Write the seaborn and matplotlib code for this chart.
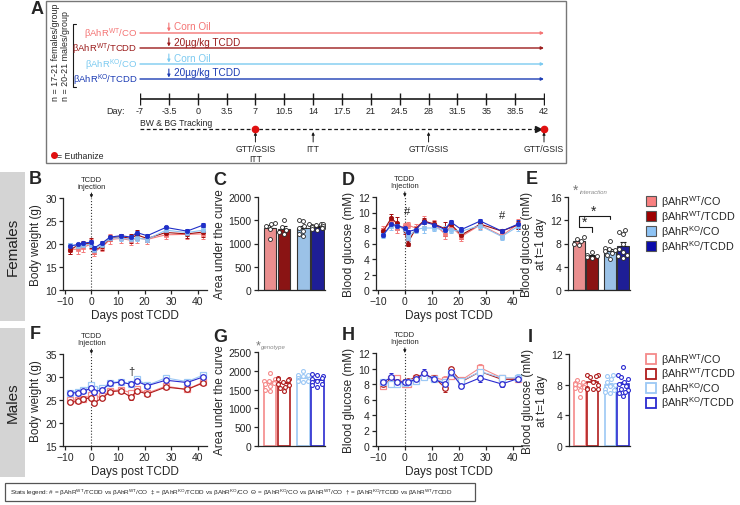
import numpy as np
import pandas as pd
import matplotlib
matplotlib.use("Agg")
import matplotlib.pyplot as plt
import seaborn as sns
from matplotlib.patches import Rectangle

sns.set_theme(style="ticks")
plt.rcParams["font.family"] = ["Liberation Sans", "DejaVu Sans"]
plt.rcParams["mathtext.fontset"] = "custom"
plt.rcParams["mathtext.rm"] = "Liberation Sans"
plt.rcParams["mathtext.it"] = "Liberation Sans:italic"
plt.rcParams["mathtext.bf"] = "Liberation Sans:bold"
plt.rcParams["axes.linewidth"] = 0.9
plt.rcParams["xtick.major.width"] = 0.9
plt.rcParams["ytick.major.width"] = 0.9
plt.rcParams["xtick.major.size"] = 3
plt.rcParams["ytick.major.size"] = 3
plt.rcParams["xtick.major.pad"] = 1.5
plt.rcParams["ytick.major.pad"] = 1.5

# ---------------- data ----------------
groups = ["WT/CO", "WT/TCDD", "KO/CO", "KO/TCDD"]
labels = [r"βAhR$^{\mathrm{WT}}$/CO", r"βAhR$^{\mathrm{WT}}$/TCDD",
          r"βAhR$^{\mathrm{KO}}$/CO", r"βAhR$^{\mathrm{KO}}$/TCDD"]
treatments = ["Corn Oil", "20µg/kg TCDD", "Corn Oil", "20µg/kg TCDD"]

day_ticks = [-7, -3.5, 0, 3.5, 7, 10.5, 14, 17.5, 21, 24.5, 28, 31.5, 35, 38.5, 42]
day_tick_labels = ["-7", "-3.5", "0", "3.5", "7", "10.5", "14", "17.5", "21",
                   "24.5", "28", "31.5", "35", "38.5", "42"]
test_days = [7, 14, 28, 42]
test_labels = ["GTT/GSIS\nITT", "ITT", "GTT/GSIS", "GTT/GSIS"]
euth_days = [7, 42]

days = [-8, -5, -3, 0, 1, 4, 7, 11, 15, 17, 21, 28, 36, 42]

bw_f = {
    "WT/CO":   [18.8, 18.9, 19.3, 20.0, 18.3, 19.3, 21.0, 21.2, 20.8, 21.3, 21.0, 22.0, 22.1, 22.2],
    "WT/TCDD": [18.7, 19.8, 20.0, 20.2, 18.6, 19.5, 21.3, 21.6, 21.2, 22.0, 21.2, 22.5, 22.2, 22.6],
    "KO/CO":   [19.7, 19.6, 19.8, 20.0, 18.8, 19.8, 21.3, 21.3, 21.0, 21.3, 21.0, 23.0, 22.5, 23.0],
    "KO/TCDD": [19.6, 19.9, 20.2, 20.4, 19.1, 20.2, 21.5, 21.8, 21.5, 22.5, 21.8, 23.6, 22.8, 24.1],
}
bw_f_sem = {
    "WT/CO":   [1.0, 1.0, 1.1, 1.0, 0.9, 0.8, 1.1, 1.0, 1.1, 1.0, 1.0, 0.9, 1.0, 1.1],
    "WT/TCDD": [0.9, 0.5, 0.6, 1.0, 0.8, 0.8, 0.6, 0.6, 1.0, 1.1, 0.8, 0.8, 0.9, 1.0],
    "KO/CO":   [0.6, 0.5, 0.5, 0.7, 0.6, 0.5, 0.5, 0.6, 0.6, 0.7, 0.6, 0.7, 0.7, 0.8],
    "KO/TCDD": [0.4, 0.3, 0.3, 0.4, 0.4, 0.4, 0.3, 0.4, 0.5, 0.4, 0.4, 0.4, 0.5, 0.4],
}
bg_f = {
    "WT/CO":   [7.8, 8.8, 8.0, 8.2, 8.4, 8.0, 8.9, 8.5, 7.2, 8.3, 6.9, 8.4, 7.0, 8.5],
    "WT/TCDD": [7.6, 9.3, 8.6, 7.7, 6.0, 7.9, 8.9, 8.5, 7.9, 8.5, 7.1, 8.5, 7.6, 8.4],
    "KO/CO":   [7.1, 8.3, 8.2, 7.9, 6.7, 7.8, 8.0, 8.0, 7.7, 7.7, 7.6, 8.3, 6.9, 8.2],
    "KO/TCDD": [7.1, 8.5, 8.3, 8.0, 7.5, 7.8, 8.8, 8.4, 7.8, 8.8, 7.8, 8.9, 7.6, 8.5],
}
bg_f_sem = {
    "WT/CO":   [0.5, 0.6, 0.7, 0.5, 0.4, 0.5, 0.6, 0.5, 0.6, 0.5, 0.6, 0.5, 0.4, 0.6],
    "WT/TCDD": [0.4, 0.5, 0.8, 0.5, 0.3, 0.4, 0.4, 0.4, 0.9, 0.4, 0.5, 0.4, 0.3, 0.5],
    "KO/CO":   [0.4, 0.5, 0.4, 0.5, 0.4, 0.4, 0.6, 0.4, 0.5, 0.4, 0.4, 0.5, 0.4, 0.6],
    "KO/TCDD": [0.3, 0.3, 0.4, 0.4, 0.3, 0.3, 0.3, 0.3, 0.3, 0.2, 0.3, 0.3, 0.3, 0.5],
}
bw_m = {
    "WT/CO":   [24.9, 25.1, 25.3, 26.0, 25.5, 25.8, 27.0, 27.2, 26.6, 27.4, 26.5, 28.0, 27.3, 28.9],
    "WT/TCDD": [24.5, 24.7, 25.2, 25.5, 24.4, 25.4, 26.8, 27.0, 25.6, 27.0, 26.3, 27.8, 27.3, 28.7],
    "KO/CO":   [26.6, 26.8, 27.1, 28.3, 27.5, 27.6, 28.8, 29.0, 28.4, 29.6, 28.2, 29.8, 29.0, 30.4],
    "KO/TCDD": [26.5, 26.6, 26.9, 27.6, 26.8, 27.2, 28.6, 28.9, 28.4, 29.1, 28.1, 29.3, 28.8, 30.0],
}
bw_m_sem = {
    "WT/CO":   [0.5, 0.5, 0.5, 0.5, 0.5, 0.5, 0.5, 0.6, 0.6, 0.6, 0.6, 0.6, 0.6, 0.6],
    "WT/TCDD": [0.4, 0.4, 0.4, 0.5, 0.4, 0.4, 0.4, 0.5, 0.5, 0.5, 0.5, 0.5, 0.5, 0.5],
    "KO/CO":   [0.4, 0.4, 0.4, 0.4, 0.4, 0.4, 0.4, 0.4, 0.4, 0.4, 0.4, 0.4, 0.5, 0.5],
    "KO/TCDD": [0.3, 0.3, 0.3, 0.4, 0.4, 0.4, 0.3, 0.3, 0.3, 0.3, 0.4, 0.4, 0.4, 0.4],
}
bg_m = {
    "WT/CO":   [7.7, 8.7, 8.8, 8.0, 8.0, 8.8, 9.2, 8.8, 8.5, 9.0, 8.5, 10.1, 8.8, 8.7],
    "WT/TCDD": [8.0, 8.5, 8.3, 8.3, 8.4, 8.9, 9.1, 8.8, 7.5, 9.9, 8.3, 9.6, 8.6, 8.6],
    "KO/CO":   [8.3, 8.0, 8.0, 8.1, 8.2, 8.4, 8.9, 8.6, 8.2, 9.4, 8.4, 9.6, 8.8, 8.8],
    "KO/TCDD": [8.2, 8.9, 8.3, 8.2, 8.2, 8.6, 9.4, 8.6, 8.0, 9.5, 7.8, 8.8, 8.0, 8.7],
}
bg_m_sem = {
    "WT/CO":   [0.3, 0.4, 0.3, 0.3, 0.3, 0.3, 0.4, 0.3, 0.5, 0.4, 0.3, 0.5, 0.4, 0.4],
    "WT/TCDD": [0.3, 0.3, 0.3, 0.3, 0.3, 0.3, 0.3, 0.3, 0.5, 0.3, 0.3, 0.4, 0.3, 0.3],
    "KO/CO":   [0.3, 0.4, 0.4, 0.3, 0.3, 0.3, 0.4, 0.3, 0.4, 0.4, 0.3, 0.4, 0.4, 0.5],
    "KO/TCDD": [0.3, 0.5, 0.3, 0.3, 0.3, 0.3, 0.6, 0.3, 0.4, 0.4, 0.3, 0.5, 0.4, 0.3],
}

auc_f = {
    "WT/CO":   [1450, 1420, 1370, 1320, 1090],
    "WT/TCDD": [1500, 1360, 1300, 1240, 1210],
    "KO/CO":   [1500, 1480, 1410, 1370, 1330, 1270, 1200, 1160],
    "KO/TCDD": [1430, 1410, 1400, 1380, 1370, 1350, 1340, 1330, 1320, 1300],
}
g1_f = {
    "WT/CO":   [9.1, 8.8, 8.4, 7.9, 7.7],
    "WT/TCDD": [6.5, 6.1, 5.8, 5.6, 5.5],
    "KO/CO":   [8.5, 7.3, 7.1, 6.9, 6.7, 6.4, 6.0, 5.3],
    "KO/TCDD": [10.3, 10.0, 9.6, 8.0, 7.0, 6.5, 6.0, 5.8, 5.5],
}
auc_m = {
    "WT/CO":   [1950, 1780, 1740, 1720, 1700, 1680, 1650, 1600, 1500, 1450],
    "WT/TCDD": [1800, 1790, 1780, 1750, 1700, 1660, 1620, 1580, 1550, 1450],
    "KO/CO":   [2000, 1900, 1880, 1850, 1800, 1780, 1760, 1740, 1720, 1700],
    "KO/TCDD": [1920, 1900, 1850, 1820, 1780, 1740, 1700, 1650, 1620, 1580],
}
g1_m = {
    "WT/CO":   [8.6, 8.4, 8.2, 8.1, 8.0, 7.9, 7.7, 7.6, 7.3, 6.4],
    "WT/TCDD": [9.3, 9.2, 9.1, 9.0, 8.4, 8.0, 7.6, 7.5, 7.4, 7.5],
    "KO/CO":   [9.3, 9.1, 8.7, 8.3, 8.0, 7.8, 7.5, 7.3, 7.0, 6.9],
    "KO/TCDD": [10.3, 9.2, 9.0, 8.7, 8.4, 8.1, 7.8, 7.5, 7.3, 7.1, 6.9, 6.5],
}

# ---------------- style ----------------
line_cols_a = ["#f47474", "#9b1c1c", "#7ccaf0", "#1c3cb4"]
line_cols_f = ["#f47a7a", "#a00d0d", "#8ec3f2", "#1f2fc8"]
bar_cols_f = ["#f98080", "#9e0000", "#8ec3f4", "#0a0aaa"]
cols_m = ["#f58a8a", "#b01c1c", "#9cc8f5", "#2a2ad0"]
bar_pos = [0, 1, 2.4, 3.4]

W, H = 740, 506
fig = plt.figure(figsize=(7.4, 5.06), dpi=100)


def px_axes(x0, y0, x1, y1):
    return fig.add_axes([x0 / W, 1 - y1 / H, (x1 - x0) / W, (y1 - y0) / H])


def fx(x):
    return x / W


def fy(y):
    return 1 - y / H


# background / layout layer in pixel coords
ax_bg = fig.add_axes([0, 0, 1, 1])
ax_bg.set_xlim(0, W)
ax_bg.set_ylim(H, 0)
ax_bg.axis("off")
ax_bg.add_patch(Rectangle((46, 2), 520, 162, fill=False, ec="#777777", lw=1))
ax_bg.add_patch(Rectangle((0, 173), 25, 149, fc="#d4d4d4", ec="none"))
ax_bg.add_patch(Rectangle((0, 329), 25, 149, fc="#d4d4d4", ec="none"))
ax_bg.text(12.5, 247, "Females", rotation=90, ha="center", va="center", fontsize=11, color="#222222")
ax_bg.text(12.5, 403, "Males", rotation=90, ha="center", va="center", fontsize=11, color="#222222")
ax_bg.text(55, 101, "n = 17-21 females/group", rotation=90, ha="center", va="bottom", fontsize=6.4)
ax_bg.text(65, 101, "n = 20-21 males/group", rotation=90, ha="center", va="bottom", fontsize=6.4)
ax_bg.plot([76, 73, 73, 76], [25, 25, 88, 88], color="k", lw=0.8)
ax_bg.plot([54], [156], "o", color="#e01010", ms=4)
ax_bg.text(57, 156, "= Euthanize", va="center", fontsize=6.3)
ax_bg.add_patch(Rectangle((5, 484), 470, 18, fill=False, ec="#555555", lw=0.9))
stats = (r"Stats legend: # = βAhR$^{\mathrm{WT}}$/TCDD vs βAhR$^{\mathrm{WT}}$/CO  ‡ = βAhR$^{\mathrm{KO}}$/TCDD vs "
         r"βAhR$^{\mathrm{KO}}$/CO  Θ = βAhR$^{\mathrm{KO}}$/CO vs βAhR$^{\mathrm{WT}}$/CO  † = βAhR$^{\mathrm{KO}}$/TCDD"
         r" vs βAhR$^{\mathrm{WT}}$/TCDD")
ax_bg.text(10, 493, stats, va="center", fontsize=4.6)

# ---------------- panel A timeline ----------------
ax_tl = px_axes(140, 0, 544, 170)
ax_tl.set_xlim(-7, 42)
ax_tl.set_ylim(170, 0)
ax_tl.axis("off")
line_y = [34, 49, 65, 80]
for i, g in enumerate(groups):
    c = line_cols_a[i]
    y = line_y[i]
    ax_tl.annotate("", xy=(42, y), xytext=(-7, y),
                   arrowprops=dict(arrowstyle="-|>", color=c, lw=1.0, mutation_scale=4, shrinkA=0, shrinkB=0))
    ax_tl.text(-7.3, y, labels[i], ha="right", va="center", color=c, fontsize=6.8)
    ax_tl.annotate("", xy=(-3.5, y - 1.5), xytext=(-3.5, y - 10),
                   arrowprops=dict(arrowstyle="-|>", color=c, lw=0.8, mutation_scale=4, shrinkA=0, shrinkB=0))
    ax_tl.text(-2.9, y - 6.5, treatments[i], va="center", color=c, fontsize=7.2)

ax_tl.plot([-7, 42], [100, 100], color="k", lw=1.2)
ax_tl.plot(day_ticks, [100] * len(day_ticks), ls="none", marker="|", ms=9, mew=1.0, color="k")
for d, lbl in zip(day_ticks, day_tick_labels):
    ax_tl.text(d, 112, lbl, ha="center", va="center", fontsize=6.5)
ax_tl.text(-10, 112, "Day:", ha="center", va="center", fontsize=6.5)
ax_tl.text(-7, 123, "BW & BG Tracking", ha="left", va="center", fontsize=6.2)
ax_tl.plot([-7, 41.3], [130, 130], ls=(0, (3, 2)), color="k", lw=0.9)
ax_tl.plot([41.3], [130], marker=">", ms=4, color="k", clip_on=False)
ax_tl.plot(euth_days, [130] * len(euth_days), "o", color="#e01010", ms=4.5, zorder=5, clip_on=False)
for d, lbl in zip(test_days, test_labels):
    ax_tl.annotate("", xy=(d, 133), xytext=(d, 143),
                   arrowprops=dict(arrowstyle="-|>", color="k", lw=0.7, mutation_scale=4, shrinkA=0, shrinkB=0))
    ax_tl.text(d, 145, lbl, ha="center", va="top", fontsize=6.2, linespacing=1.1)

# ---------------- helpers ----------------
def line_panel(ax, data, sem, filled, cols, ylim, yticks, ylabel, inj_text):
    for i, g in enumerate(groups):
        c = cols[i]
        mk = "s" if i % 2 == 0 else "o"
        ax.errorbar(days, data[g], yerr=sem[g], fmt="none", ecolor=c, elinewidth=0.7,
                    capsize=1.5, capthick=0.7, zorder=2)
        sns.lineplot(x=days, y=data[g], ax=ax, color=c, lw=0.8, marker=mk,
                     markersize=3.2 if filled else 4,
                     markerfacecolor=c if filled else "white",
                     markeredgecolor=c, markeredgewidth=0.5 if filled else 0.9, zorder=3)
    ax.axvline(0, color="#333333", ls=":", lw=0.8, zorder=1)
    ax.annotate(inj_text, xy=(0, 1.0), xytext=(0, 1.09), xycoords=("data", "axes fraction"),
                textcoords=("data", "axes fraction"), ha="center", va="bottom", fontsize=5.5,
                linespacing=1.0,
                arrowprops=dict(arrowstyle="-|>", color="k", lw=0.7, mutation_scale=4, shrinkA=0, shrinkB=0))
    ax.set_xlim(-10.7, 43.5)
    ax.set_ylim(*ylim)
    ax.set_xticks([-10, 0, 10, 20, 30, 40])
    ax.set_yticks(yticks)
    ax.set_xlabel("Days post TCDD", fontsize=8.5, labelpad=2)
    ax.set_ylabel(ylabel, fontsize=8.5, labelpad=2)
    ax.tick_params(labelsize=7.5)
    sns.despine(ax=ax)


def bar_panel(ax, pts, filled, ylim, yticks, ylabel):
    rows = [(bar_pos[i], v, g) for i, g in enumerate(groups) for v in pts[g]]
    df = pd.DataFrame(rows, columns=["pos", "val", "grp"])
    if filled:
        sns.barplot(data=df, x="pos", y="val", hue="grp", palette=dict(zip(groups, bar_cols_f)),
                    native_scale=True, errorbar=None, width=0.9, dodge=False,
                    edgecolor="#333333", linewidth=0.8, legend=False, ax=ax, zorder=1)
    else:
        sns.barplot(data=df, x="pos", y="val", hue="grp", palette=dict(zip(groups, cols_m)),
                    native_scale=True, errorbar=None, width=0.9, dodge=False, fill=False,
                    linewidth=1.2, legend=False, ax=ax, zorder=1)
    for i, g in enumerate(groups):
        v = np.array(pts[g])
        m = v.mean()
        s = v.std(ddof=1) / np.sqrt(len(v))
        ec = "k" if filled else cols_m[i]
        ax.errorbar([bar_pos[i]], [m], yerr=[[0], [s]], fmt="none", ecolor=ec, elinewidth=0.8,
                    capsize=2, capthick=0.8, zorder=3)
        sns.swarmplot(x=np.full(len(v), bar_pos[i]), y=v, native_scale=True, ax=ax,
                      color="white", edgecolor="#222222" if filled else cols_m[i],
                      linewidth=0.6 if filled else 0.8, size=2.8, zorder=4, warn_thresh=1)
    ax.set_xlim(-0.85, 3.95)
    ax.set_ylim(*ylim)
    ax.set_yticks(yticks)
    ax.set_xticks([])
    ax.set_xlabel("")
    ax.set_ylabel(ylabel, fontsize=8.5, labelpad=2)
    ax.tick_params(labelsize=7.5)
    sns.despine(ax=ax, bottom=False)


def legend_block(y_rows, face_cols, edge_cols, lw):
    for i in range(len(groups)):
        y = y_rows[i]
        ax_bg.add_patch(Rectangle((646, y - 5), 10, 10, fc=face_cols[i], ec=edge_cols[i], lw=lw))
        ax_bg.text(661, y, labels[i], va="center", ha="left", fontsize=7.8)


# ---------------- females ----------------
ax_b = px_axes(63, 199, 207, 291)
line_panel(ax_b, bw_f, bw_f_sem, True, line_cols_f, (10, 30), [10, 15, 20, 25, 30],
           "Body weight (g)", "TCDD\ninjection")
ax_c = px_axes(258, 198, 325, 291)
bar_panel(ax_c, auc_f, True, (0, 2000), [0, 500, 1000, 1500, 2000], "Area under the curve")
ax_d = px_axes(376, 198, 522, 291)
line_panel(ax_d, bg_f, bg_f_sem, True, line_cols_f, (0, 12), [0, 2, 4, 6, 8, 10, 12],
           "Blood glucose (mM)", "TCDD\nInjection")
ax_d.text(1, 9.6, "#", ha="center", va="bottom", fontsize=8)
ax_d.text(36, 9.0, "#", ha="center", va="bottom", fontsize=8)
ax_e = px_axes(568, 198, 630, 291)
bar_panel(ax_e, g1_f, True, (0, 16), [0, 4, 8, 12, 16], "Blood glucose (mM)\nat t=1 day")
ax_e.plot([bar_pos[0], bar_pos[0], bar_pos[2], bar_pos[2]], [10.8, 12.7, 12.7, 12.2], color="k", lw=0.8)
ax_e.plot([bar_pos[0], bar_pos[1], bar_pos[1]], [10.8, 10.8, 10.0], color="k", lw=0.8)
ax_e.text(1.1, 12.4, "*", ha="center", va="bottom", fontsize=10)
ax_e.text(0.4, 10.5, "*", ha="center", va="bottom", fontsize=10)
ax_bg.text(576, 191, "*", color="#777777", fontsize=10, ha="center", va="center")
ax_bg.text(580, 192, "interaction", color="#888888", fontsize=4.3, style="italic", va="center")
legend_block([202, 217, 232, 247], bar_cols_f, ["#555555"] * 4, 0.8)

# ---------------- males ----------------
ax_f = px_axes(63, 355, 207, 447)
line_panel(ax_f, bw_m, bw_m_sem, False, cols_m, (15, 35), [15, 20, 25, 30, 35],
           "Body weight (g)", "TCDD\nInjection")
ax_f.text(15, 30.2, "†", ha="center", va="bottom", fontsize=8)
ax_g = px_axes(258, 353, 325, 447)
bar_panel(ax_g, auc_m, False, (0, 2500), [0, 500, 1000, 1500, 2000, 2500], "Area under the curve")
ax_bg.text(258, 346, "*", color="#777777", fontsize=9, ha="center", va="center")
ax_bg.text(261, 347, "genotype", color="#888888", fontsize=4.3, style="italic", va="center")
ax_h = px_axes(376, 354, 522, 447)
line_panel(ax_h, bg_m, bg_m_sem, False, cols_m, (0, 12), [0, 2, 4, 6, 8, 10, 12],
           "Blood glucose (mM)", "TCDD\nInjection")
ax_i = px_axes(569, 355, 630, 447)
bar_panel(ax_i, g1_m, False, (0, 12), [0, 4, 8, 12], "Blood glucose (mM)\nat t=1 day")
legend_block([360, 374.5, 389, 403.5], ["white"] * 4, cols_m, 1.3)

# ---------------- panel letters ----------------
for lt, (x, y) in {"A": (37, 10), "B": (35, 180), "C": (220, 181), "D": (348, 181),
                   "E": (532, 180), "F": (35, 335), "G": (220, 337), "H": (348, 336),
                   "I": (530, 337)}.items():
    fig.text(fx(x), fy(y), lt, fontsize=13, fontweight="bold", ha="center", va="center")

fig.savefig("out.png", dpi=100)
